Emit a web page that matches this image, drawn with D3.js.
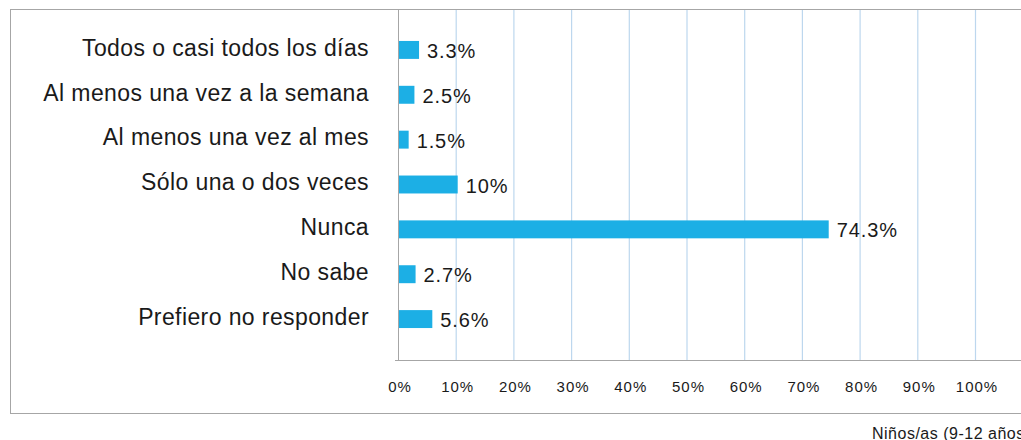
<!DOCTYPE html>
<html>
<head>
<meta charset="utf-8">
<script src="https://cdn.jsdelivr.net/npm/d3@7"></script>
<style>
  body { margin: 0; background: #fff; overflow: hidden; }
  svg { font-family: "Liberation Sans", Arial, sans-serif; display: block; }
</style>
</head>
<body>
<div id="chart"></div>
<script>
const categories = [
    "Todos o casi todos los días",
    "Al menos una vez a la semana",
    "Al menos una vez al mes",
    "Sólo una o dos veces",
    "Nunca",
    "No sabe",
    "Prefiero no responder"
];
const values = [3.3, 2.5, 1.5, 10, 74.3, 2.7, 5.6];
const valueLabels = ["3.3%", "2.5%", "1.5%", "10%", "74.3%", "2.7%", "5.6%"];
const ticks = [0, 10, 20, 30, 40, 50, 60, 70, 80, 90, 100];
const footnote = "Niños/as (9-12 años)";

const width = 1021, height = 440;
const svg = d3.select("#chart").append("svg")
    .attr("width", width)
    .attr("height", height);

// outer frame (runs off the right edge)
svg.append("rect")
    .attr("x", 10.5).attr("y", 9.5)
    .attr("width", 1030).attr("height", 404)
    .attr("fill", "none")
    .attr("stroke", "#a6a6a6");

const x = d3.scaleLinear().domain([0, 100]).range([398, 975]);
const y = d3.scaleBand().domain(categories).range([27.5, 341.5]).paddingInner(0.6).paddingOuter(0.3);
const plotTop = 10, plotBottom = 360;

// gridlines
svg.append("g")
    .selectAll("line")
    .data(ticks.slice(1))
    .join("line")
    .attr("x1", d => x(d) + 0.5).attr("x2", d => x(d) + 0.5)
    .attr("y1", plotTop).attr("y2", plotBottom)
    .attr("stroke", "#bdd7ee")
    .attr("stroke-width", 1.2);

// bars
svg.append("g")
    .selectAll("rect")
    .data(values)
    .join("rect")
    .attr("x", x(0) + 1)
    .attr("y", (d, i) => y(categories[i]))
    .attr("width", d => x(d) - x(0) + 1)
    .attr("height", y.bandwidth())
    .attr("fill", "#1cafe5");

// axis lines
svg.append("line")
    .attr("x1", x(0) + 0.5).attr("x2", x(0) + 0.5)
    .attr("y1", plotTop).attr("y2", plotBottom)
    .attr("stroke", "#a6a6a6");
svg.append("line")
    .attr("x1", x(0) - 3).attr("x2", width)
    .attr("y1", plotBottom + 0.5).attr("y2", plotBottom + 0.5)
    .attr("stroke", "#a6a6a6");

// value labels
svg.append("g")
    .selectAll("text")
    .data(values)
    .join("text")
    .attr("x", d => x(d) + 10)
    .attr("y", (d, i) => y(categories[i]) + y.bandwidth() / 2)
    .attr("dy", "0.4em")
    .attr("font-size", 20)
    .attr("letter-spacing", 0.9)
    .attr("fill", "#1a1a1a")
    .text((d, i) => valueLabels[i]);

// category labels
svg.append("g")
    .selectAll("text")
    .data(categories)
    .join("text")
    .attr("x", 369)
    .attr("y", d => y(d) + y.bandwidth() / 2)
    .attr("dy", "0.25em")
    .attr("text-anchor", "end")
    .attr("font-size", 23)
    .attr("letter-spacing", 0.4)
    .attr("fill", "#1a1a1a")
    .text(d => d);

// tick labels
svg.append("g")
    .selectAll("text")
    .data(ticks)
    .join("text")
    .attr("x", d => x(d) + 2)
    .attr("y", 392)
    .attr("text-anchor", "middle")
    .attr("font-size", 15)
    .attr("letter-spacing", 1)
    .attr("fill", "#1a1a1a")
    .text(d => d + "%");

svg.append("text")
    .attr("x", 872)
    .attr("y", 439)
    .attr("font-size", 16)
    .attr("letter-spacing", 0.5)
    .attr("fill", "#1a1a1a")
    .text(footnote);
</script>
</body>
</html>
